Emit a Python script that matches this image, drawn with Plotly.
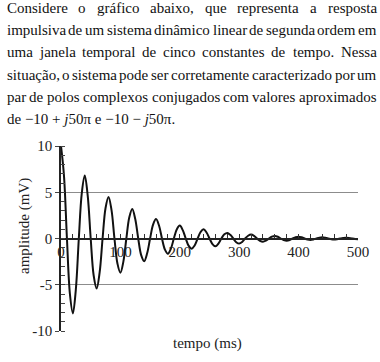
import plotly.graph_objects as go

# ---------------- data ----------------
time_ms = list(range(0, 501, 5))
amplitude_mV = [
    10.0, 6.8, 0.0, -6.0, -8.1, -5.5, 0.0, 4.9, 6.8, 4.6,
    0.0, -4.0, -5.4, -3.7, 0.0, 3.3, 4.5, 3.1, 0.0, -2.7,
    -3.7, -2.5, 0.0, 2.3, 3.2, 2.1, 0.0, -1.8, -2.45, -1.6,
    0.0, 1.5, 2.1, 1.4, 0.0, -1.2, -1.65, -1.1, 0.0, 1.0,
    1.4, 0.9, 0.0, -0.8, -1.1, -0.75, 0.0, 0.7, 1.0, 0.65,
    0.0, -0.6, -0.85, -0.55, 0.0, 0.45, 0.6, 0.4, 0.0, -0.4,
    -0.55, -0.37, 0.0, 0.3, 0.42, 0.28, 0.0, -0.25, -0.35, -0.23,
    0.0, 0.2, 0.28, 0.19, 0.0, -0.17, -0.24, -0.16, 0.0, 0.14,
    0.2, 0.13, 0.0, -0.11, -0.16, -0.1, 0.0, 0.09, 0.13, 0.08,
    0.0, -0.08, -0.11, -0.07, 0.0, 0.06, 0.09, 0.06, 0.0, -0.05,
    -0.07,
]
x_tick_vals = [0, 100, 200, 300, 400, 500]
y_tick_vals = [-10, -5, 0, 5, 10]
x_title = "tempo (ms)"
y_title = "amplitude (mV)"

paragraph_lines = [
    "Considere o gráfico abaixo, que representa a resposta",
    "impulsiva de um sistema dinâmico linear de segunda ordem em",
    "uma janela temporal de cinco constantes de tempo. Nessa",
    "situação, o sistema pode ser corretamente caracterizado por um",
    "par de polos complexos conjugados com valores aproximados",
]
last_line = "de −10 + <i>j</i>50π e −10 − <i>j</i>50π."

# ---------------- layout helpers ----------------
W, H = 380, 362
ML, MR, MT, MB = 61, 22, 146, 31
PW, PH = W - ML - MR, H - MT - MB
SERIF = "Liberation Serif"
FS = 15


def px_x(px):
    return (px - ML) / PW


def px_y(py):
    return (H - MB - py) / PH


# Times-Roman advance widths (per 1000 em) for justification
TW = dict(a=444, b=500, c=444, d=500, e=444, f=333, g=500, h=500, i=278,
          j=278, k=500, l=278, m=778, n=500, o=500, p=500, q=500, r=333,
          s=389, t=278, u=500, v=500, w=722, x=500, y=500, z=444)
TW.update({"á": 444, "â": 444, "ã": 444, "ç": 444, "C": 667, "N": 722,
           ",": 250, ".": 250})


def word_width(wd):
    return sum(TW.get(ch, 500) for ch in wd) * FS / 1000.0


TEXT_L, TEXT_R = 7.0, 376.5
BASE0, LSTEP = 13.0, 22.2

annotations = []


def text_ann(txt, x, y, anchor, color="#111"):
    return dict(text=txt, x=px_x(x), y=px_y(y), xref="paper", yref="paper",
                xanchor=anchor, yanchor="middle", showarrow=False,
                borderpad=0, borderwidth=0,
                font=dict(family=SERIF, size=FS, color=color))


for li, line in enumerate(paragraph_lines):
    words = line.split(" ")
    widths = [word_width(w_) for w_ in words]
    gap = (TEXT_R - TEXT_L - sum(widths)) / (len(words) - 1)
    mid = BASE0 + LSTEP * li - 5
    xpos = TEXT_L
    n = len(words)
    for k, (w_, ww) in enumerate(zip(words, widths)):
        if k == 0:
            annotations.append(text_ann(w_, TEXT_L, mid, "left"))
        elif k == n - 1:
            annotations.append(text_ann(w_, TEXT_R, mid, "right"))
        else:
            annotations.append(text_ann(w_, xpos + ww / 2, mid, "center"))
        xpos += ww + gap

annotations.append(text_ann(last_line, TEXT_L, BASE0 + LSTEP * 5 - 5, "left"))

annotations.append(dict(
    text=y_title, x=px_x(24), y=px_y(226), xref="paper", yref="paper",
    textangle=-90, showarrow=False, xanchor="center", yanchor="middle",
    font=dict(family=SERIF, size=FS, color="#222")))
annotations.append(dict(
    text=x_title, x=px_x(207), y=px_y(343), xref="paper", yref="paper",
    showarrow=False, xanchor="center", yanchor="middle",
    font=dict(family=SERIF, size=FS, color="#222")))

# ---------------- figure ----------------
fig = go.Figure()
fig.add_trace(go.Scatter(
    x=time_ms, y=amplitude_mV, mode="lines",
    line=dict(color="#111", width=2, shape="spline", smoothing=1.0),
    hoverinfo="skip", showlegend=False))

fig.update_layout(
    width=W, height=H,
    margin=dict(l=ML, r=MR, t=MT, b=MB, pad=0),
    paper_bgcolor="white", plot_bgcolor="white",
    showlegend=False,
    annotations=annotations,
    xaxis=dict(
        range=[0, 500], anchor="free", position=0.5,
        tickmode="array", tickvals=x_tick_vals,
        ticktext=[str(v) for v in x_tick_vals],
        ticks="inside", ticklen=4, tickwidth=1.2, tickcolor="#333",
        minor=dict(dtick=20, tick0=0, ticks="inside", ticklen=4,
                   tickwidth=1.2, tickcolor="#333", showgrid=False),
        showline=True, linecolor="#222", linewidth=1.5,
        showgrid=False, zeroline=False,
        tickfont=dict(family=SERIF, size=FS, color="#222"),
    ),
    yaxis=dict(
        range=[-10, 10],
        tickmode="array", tickvals=y_tick_vals,
        ticktext=[str(v) for v in y_tick_vals],
        ticks="outside", ticklen=4, tickwidth=1.2, tickcolor="#444",
        minor=dict(dtick=1, tick0=0, ticks="inside", ticklen=4,
                   tickwidth=1.2, tickcolor="#444", showgrid=False),
        showline=True, linecolor="#222", linewidth=1.5,
        showgrid=True, gridcolor="#8c8c8c", gridwidth=1.3,
        zeroline=False,
        tickfont=dict(family=SERIF, size=FS, color="#222"),
    ),
)

# remove the default 8px page margin so the figure sits at the window origin
fig.write_html("out.html",
               config={"displayModeBar": False},
               post_script="document.body.style.margin='0';")
